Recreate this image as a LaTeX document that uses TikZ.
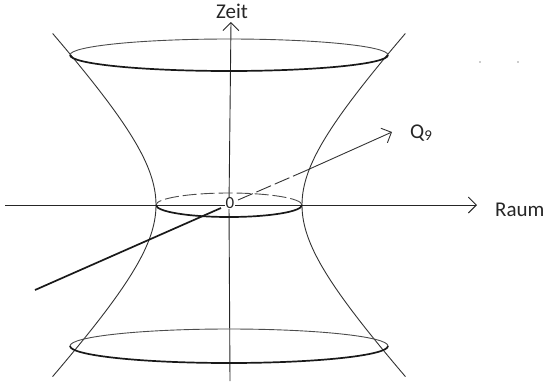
\documentclass[tikz,border=0pt]{standalone}
\usepackage{fontspec}
\setmainfont{Carlito}
\usetikzlibrary{arrows.meta}
\tikzset{
  axis/.style={draw=black!85, line width=0.9pt},
  hyp/.style={draw=black!80, line width=0.9pt},
  backarc/.style={draw=black!70, line width=0.9pt},
  frontarc/.style={draw=black!90, line width=1.7pt},
  chev/.style={-{Straight Barb[length=8pt,width=16pt,line width=0.9pt]}},
  lab/.style={font=\fontsize{21}{24}\selectfont, text=black!85, inner sep=1pt}
}
\begin{document}
\begin{tikzpicture}[x=1pt,y=-1pt]
\useasboundingbox (0,0) rectangle (544,381);
% coordinates
\coordinate (O) at (229,205);
\coordinate (tb) at (230,381);
\coordinate (tt) at (231,22);
\coordinate (xl) at (5,205);
\coordinate (xr) at (477,205);
\coordinate (qs) at (35,290);
\coordinate (qa) at (221,208);
\coordinate (qb) at (238,200);
\coordinate (qc) at (305,171);
\coordinate (qe) at (392,132);
% axes
\draw[axis] (xl) -- (O);
\draw[axis,chev] (O) -- (xr);
\draw[axis] (tb) -- (O);
\draw[axis,chev] (O) -- (tt);
% hyperbola branches
\draw[hyp] plot[domain=-1.53:1.53, samples=80, variable=\u] ({229-73*cosh(\u)}, {205-78*sinh(\u)});
\draw[hyp] plot[domain=-1.53:1.53, samples=80, variable=\u] ({229+73*cosh(\u)}, {205-78*sinh(\u)});
% top ellipse
\draw[backarc] (388,55) arc[start angle=0, end angle=-180, x radius=159, y radius=16];
\draw[frontarc] (388,55) arc[start angle=0, end angle=180, x radius=159, y radius=16];
% bottom ellipse
\draw[backarc] (388,346) arc[start angle=0, end angle=-180, x radius=159, y radius=17];
\draw[frontarc] (388,346) arc[start angle=0, end angle=180, x radius=159, y radius=17];
% middle ellipse
\draw[backarc, dash pattern=on 14pt off 4pt] (302,205) arc[start angle=0, end angle=-180, x radius=73, y radius=12];
\draw[frontarc] (302,205) arc[start angle=0, end angle=180, x radius=73, y radius=12];
% Q9 line
\draw[draw=black!90, line width=1.7pt] (qs) -- (qa);
\draw[draw=black!80, line width=0.9pt, dash pattern=on 16pt off 4pt] (qb) -- (qc);
\draw[draw=black!80, line width=0.9pt, chev] (qc) -- (qe);
% labels
\node[lab, fill=white, font=\fontsize{17}{19}\selectfont, inner sep=0.3pt] (zero) at (230,203) {0};
\node[lab] (zeit) at (232,11) {Zeit};
\node[lab, anchor=west] (raum) at (494,210) {Raum};
\node[lab, anchor=west] (q9) at (409,133) {Q\raisebox{-2.5pt}{\fontsize{15}{16}\selectfont 9}};
% stray dots
\fill[black!40] (480,62) circle (0.9pt);
\fill[black!40] (518,62) circle (0.9pt);
\end{tikzpicture}
\end{document}
